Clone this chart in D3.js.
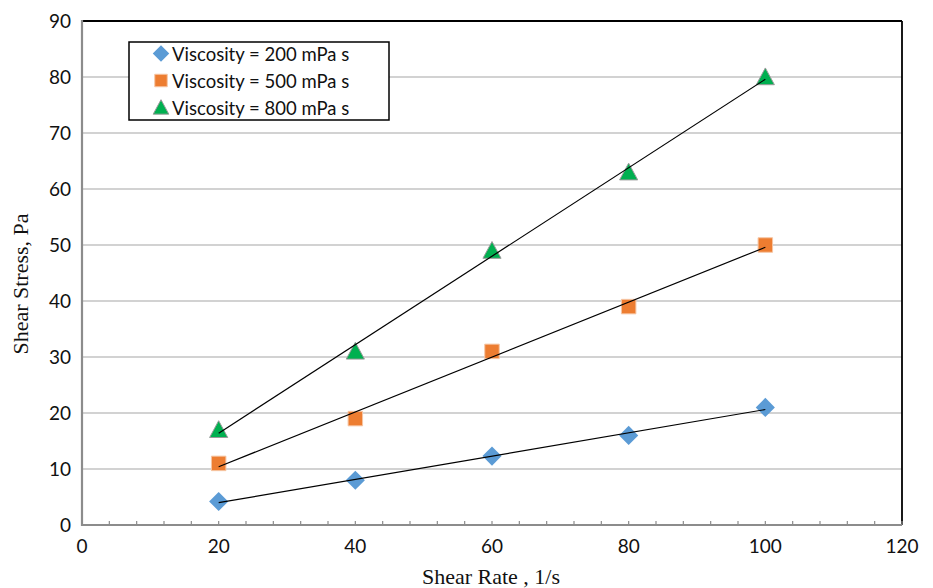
<!DOCTYPE html>
<html>
<head>
<meta charset="utf-8">
<script src="https://cdn.jsdelivr.net/npm/d3@7"></script>
<style>
  html, body { margin: 0; padding: 0; background: #fff; }
  svg { display: block; }
</style>
</head>
<body>
<svg id="chart" width="933" height="588"></svg>
<script>
// Shear rate (1/s) at which stress was measured
const shearRate = [20, 40, 60, 80, 100];
// Measured shear stress (Pa) for each fluid
const stress200 = [4.2, 8, 12.3, 16, 21];
const stress500 = [11, 19, 31, 39, 50];
const stress800 = [17, 31, 49, 63, 80];
const seriesNames = ["Viscosity = 200 mPa s", "Viscosity = 500 mPa s", "Viscosity = 800 mPa s"];
const xTicks = [0, 20, 40, 60, 80, 100, 120];
const yTicks = [0, 10, 20, 30, 40, 50, 60, 70, 80, 90];

const series = [
  { name: seriesNames[0], values: stress200, shape: "diamond", fill: "#5B9BD5", stroke: "none" },
  { name: seriesNames[1], values: stress500, shape: "square", fill: "#ED7D31", stroke: "#f6c6a4" },
  { name: seriesNames[2], values: stress800, shape: "triangle", fill: "#00B050", stroke: "#9a9a9a" }
];

const svg = d3.select("#chart");
const plotL = 82, plotR = 902, plotT = 21, plotB = 525;

const x = d3.scaleLinear().domain([0, 120]).range([plotL, plotR]);
const y = d3.scaleLinear().domain([0, 90]).range([plotB, plotT]);

// horizontal gridlines
svg.append("g").selectAll("line").data(yTicks.filter(v => v > 0 && v < 90)).join("line")
  .attr("x1", plotL).attr("x2", plotR)
  .attr("y1", d => y(d)).attr("y2", d => y(d))
  .attr("stroke", "#a6a6a6").attr("stroke-width", 1.2);

// frame: black top and right, grey axes left and bottom
svg.append("line").attr("x1", plotL).attr("x2", plotR).attr("y1", plotT).attr("y2", plotT)
  .attr("stroke", "#000").attr("stroke-width", 1.8);
svg.append("line").attr("x1", plotR).attr("x2", plotR).attr("y1", plotT).attr("y2", plotB)
  .attr("stroke", "#000").attr("stroke-width", 1.8);

// minor ticks along the x axis every 4 units, pointing inwards
const minor = d3.range(0, 121, 4);
svg.append("g").selectAll("line").data(minor).join("line")
  .attr("x1", d => x(d)).attr("x2", d => x(d))
  .attr("y1", plotB).attr("y2", plotB - 4)
  .attr("stroke", "#8c8c8c").attr("stroke-width", 1.2);

svg.append("line").attr("x1", plotL).attr("x2", plotR).attr("y1", plotB).attr("y2", plotB)
  .attr("stroke", "#8c8c8c").attr("stroke-width", 2.2);
svg.append("line").attr("x1", plotL).attr("x2", plotL).attr("y1", plotT - 1).attr("y2", plotB + 1)
  .attr("stroke", "#8c8c8c").attr("stroke-width", 2.2);

// tick labels
const tickFont = "Lato, 'Open Sans', sans-serif";
svg.append("g").selectAll("text").data(xTicks).join("text")
  .attr("x", d => x(d)).attr("y", 553)
  .attr("text-anchor", "middle")
  .attr("font-family", tickFont).attr("font-size", 19).attr("fill", "#111")
  .text(d => d);
svg.append("g").selectAll("text").data(yTicks).join("text")
  .attr("x", 71).attr("y", d => y(d) + 7)
  .attr("text-anchor", "end")
  .attr("font-family", tickFont).attr("font-size", 19).attr("fill", "#111")
  .text(d => d);

// axis titles
const titleFont = "'Liberation Serif', 'Times New Roman', serif";
svg.append("text").attr("x", 491).attr("y", 584).attr("text-anchor", "middle")
  .attr("font-family", titleFont).attr("font-size", 22).attr("fill", "#111")
  .text("Shear Rate , 1/s");
svg.append("text").attr("transform", `translate(28,284) rotate(-90)`)
  .attr("text-anchor", "middle")
  .attr("font-family", titleFont).attr("font-size", 22).attr("fill", "#111")
  .text("Shear Stress, Pa");

// linear least-squares trend line
function fit(xs, ys) {
  const mx = d3.mean(xs), my = d3.mean(ys);
  const slope = d3.sum(xs, (v, i) => (v - mx) * (ys[i] - my)) / d3.sum(xs, v => (v - mx) ** 2);
  return { slope, intercept: my - slope * mx };
}

function marker(sel, s, size) {
  let p;
  if (s.shape === "diamond") {
    const h = size * 1.32 / 2;
    p = `M0,${-h}L${h},0L0,${h}L${-h},0Z`;
  } else if (s.shape === "square") {
    const h = size / 2;
    p = `M${-h},${-h}H${h}V${h}H${-h}Z`;
  } else {
    const h = size * 1.25 / 2;
    p = `M0,${-h}L${h},${h * 0.85}L${-h},${h * 0.85}Z`;
  }
  return sel.attr("d", p).attr("fill", s.fill)
    .attr("stroke", s.stroke).attr("stroke-width", s.stroke === "none" ? 0 : 1);
}

// markers first, trend lines drawn over them
series.forEach(s => {
  const pts = shearRate.map((r, i) => [r, s.values[i]]);
  svg.append("g").selectAll("path").data(pts).join("path")
    .attr("transform", d => `translate(${x(d[0])},${y(d[1])})`)
    .call(sel => marker(sel, s, 14.5));
});
series.forEach(s => {
  const f = fit(shearRate, s.values);
  const x0 = d3.min(shearRate), x1 = d3.max(shearRate);
  svg.append("line")
    .attr("x1", x(x0)).attr("y1", y(f.intercept + f.slope * x0))
    .attr("x2", x(x1)).attr("y2", y(f.intercept + f.slope * x1))
    .attr("stroke", "#000").attr("stroke-width", 1.2);
});

// legend
const lg = svg.append("g");
lg.append("rect").attr("x", 129).attr("y", 42).attr("width", 260).attr("height", 78)
  .attr("fill", "#fff").attr("stroke", "#000").attr("stroke-width", 1.5);
series.forEach((s, i) => {
  const cy = 53.5 + i * 27;
  lg.append("path").attr("transform", `translate(161,${cy})`).call(sel => marker(sel, s, 12.5));
  lg.append("text").attr("x", 172).attr("y", cy + 7)
    .attr("font-family", tickFont).attr("font-size", 18.5).attr("fill", "#111")
    .text(s.name);
});
</script>
</body>
</html>
